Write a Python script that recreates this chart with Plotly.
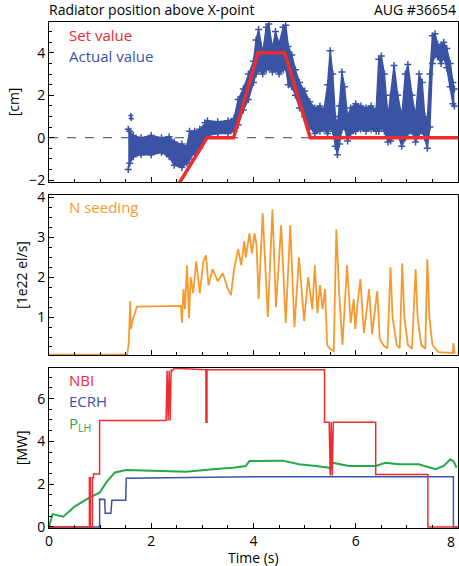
import plotly.graph_objects as go
from plotly.subplots import make_subplots

# ---------------- data ----------------
# Top panel: radiator position (cm)
set_t = [2.40, 3.09, 3.61, 4.09, 4.61, 5.11, 8.00]
set_v = [-2.72, 0.0, 0.0, 4.0, 4.0, 0.0, 0.0]

act_t = [1.55, 1.58, 1.65, 1.80, 2.00, 2.20, 2.35, 2.45, 2.60, 2.70, 2.75, 2.85, 2.95,
         3.05, 3.10, 3.30, 3.50, 3.62, 3.70, 3.80, 3.90, 4.00, 4.05, 4.10, 4.18, 4.25,
         4.30, 4.37, 4.43, 4.50, 4.58, 4.63, 4.68, 4.75, 4.82, 4.90, 5.00, 5.10, 5.20,
         5.30, 5.38, 5.45, 5.50, 5.55, 5.60, 5.64, 5.68, 5.73, 5.78, 5.84, 5.90, 6.00,
         6.10, 6.20, 6.30, 6.40, 6.45, 6.50, 6.56, 6.63, 6.68, 6.75, 6.82, 6.90, 6.97,
         7.02, 7.10, 7.17, 7.24, 7.30, 7.35, 7.40, 7.45, 7.50, 7.55, 7.60, 7.67, 7.72,
         7.78, 7.85, 7.90, 7.93]
act_lo = [-1.5, -1.2, -0.9, -0.8, -0.8, -0.7, -0.9, -1.3, -1.4, -1.2, -1.0, -0.7, -0.5,
          0.0, 0.1, 0.2, 0.2, 0.3, 0.6, 1.3, 1.8, 2.6, 3.0, 3.2, 3.0, 3.2,
          3.3, 3.1, 3.2, 3.0, 3.2, 3.3, 2.5, 2.4, 2.0, 1.4, 1.0, 0.5, 0.2,
          0.3, 0.4, 0.2, 0.5, 0.3, -0.4, -0.8, -0.3, 0.4, 0.5, -0.15, 0.2, 0.3,
          0.4, 0.3, 0.4, 0.3, 0.3, 0.5, 0.3, -0.2, -0.15, 0.1, 0.2, -0.4, 0.0,
          0.2, 0.3, -0.2, 0.2, 0.3, 0.0, -0.5, 0.5, 3.5, 3.9, 3.8, 3.5, 3.8,
          3.3, 2.4, 1.6, 1.5]
act_hi = [0.4, 0.3, 0.1, 0.0, 0.1, 0.0, 0.05, -0.2, -0.3, -0.4, 0.3, 0.3, 0.4,
          0.7, 0.8, 0.75, 0.8, 0.9, 1.8, 2.3, 3.0, 3.6, 4.6, 5.1, 4.0, 5.2,
          5.35, 4.2, 5.0, 4.4, 5.2, 5.3, 4.3, 3.9, 3.2, 2.6, 2.2, 1.7, 1.4,
          1.5, 1.3, 2.5, 4.1, 3.0, 1.0, 0.6, 1.5, 3.1, 2.4, 1.0, 1.4, 1.6,
          1.5, 1.4, 1.5, 1.3, 3.7, 3.85, 3.0, 1.0, 2.0, 3.4, 2.0, 1.0, 3.0,
          3.45, 2.0, 1.0, 3.0, 2.6, 1.0, 0.8, 3.0, 4.8, 4.9, 4.4, 4.3, 4.5,
          4.2, 3.5, 2.6, 2.3]
out_t = [1.60, 1.61]
out_v = [1.05, 0.90]

# Middle panel: N seeding (1e22 el/s)
n_t = [0.0, 1.53, 1.56, 1.59, 1.60, 1.64, 1.72, 2.00, 2.30, 2.58, 2.60, 2.63, 2.66, 2.70,
       2.74, 2.77, 2.82, 2.88, 2.95, 3.02, 3.07, 3.12, 3.20, 3.30, 3.40, 3.50, 3.56, 3.62,
       3.70, 3.76, 3.82, 3.85, 3.92, 3.97, 4.02, 4.06, 4.10, 4.18, 4.28, 4.37, 4.44, 4.54,
       4.63, 4.72, 4.80, 4.89, 4.99, 5.07, 5.15, 5.20, 5.25, 5.30, 5.35, 5.40, 5.44, 5.50,
       5.57, 5.62, 5.68, 5.74, 5.83, 5.90, 5.96, 5.99, 6.04, 6.09, 6.16, 6.22, 6.26, 6.32,
       6.38, 6.42, 6.47, 6.55, 6.62, 6.68, 6.72, 6.80, 6.86, 6.91, 6.95, 7.02, 7.10, 7.17,
       7.21, 7.28, 7.36, 7.40, 7.44, 7.50, 7.62, 7.80, 7.90, 7.91, 7.93, 7.95]
n_v = [0.06, 0.06, 0.35, 1.40, 0.70, 0.95, 1.26, 1.27, 1.28, 1.28, 0.85, 1.70, 1.20, 2.30,
       0.97, 2.00, 1.60, 2.40, 1.60, 2.40, 2.55, 1.80, 2.20, 1.90, 2.10, 1.70, 1.55, 2.20,
       2.70, 2.30, 2.90, 2.50, 3.10, 2.60, 3.10, 2.80, 1.45, 3.60, 1.00, 3.70, 1.25, 3.30,
       0.85, 3.30, 0.75, 2.50, 0.90, 2.00, 1.20, 2.30, 1.10, 1.80, 1.20, 1.70, 0.30, 0.20,
       0.15, 3.20, 1.50, 0.30, 2.30, 0.85, 1.45, 0.70, 1.40, 1.95, 0.60, 1.30, 1.70, 0.57,
       1.20, 1.65, 0.45, 0.28, 0.22, 2.25, 1.00, 0.30, 0.22, 2.35, 1.00, 0.30, 0.20, 2.20,
       1.00, 0.30, 0.20, 2.45, 1.00, 0.30, 0.12, 0.10, 0.10, 0.35, 0.10, 0.10]

# Bottom panel: heating powers (MW)
nbi_t = [0.0, 0.79, 0.79, 0.81, 0.81, 0.85, 0.85, 0.87, 0.87, 0.99, 0.99, 2.29, 2.31,
         2.33, 2.35, 2.37, 2.39, 2.41, 2.45, 3.07, 3.07, 3.09, 3.09, 5.39, 5.39, 5.48,
         5.50, 5.52, 5.54, 5.56, 6.39, 6.39, 7.41, 7.41, 8.0]
nbi_v = [0.0, 0.0, 2.3, 2.3, 0.0, 0.0, 2.3, 2.3, 2.47, 2.47, 4.98, 4.98, 7.3,
         4.98, 7.3, 4.98, 7.35, 7.3, 7.42, 7.35, 4.9, 4.9, 7.35, 7.35, 4.9, 4.9,
         2.4, 4.9, 2.4, 4.9, 4.9, 2.45, 2.45, 0.0, 0.0]
ecrh_t = [0.0, 0.99, 0.99, 1.09, 1.10, 1.21, 1.23, 1.50, 1.51, 2.5, 4.0, 7.91, 7.91, 8.0]
ecrh_v = [0.0, 0.0, 1.30, 1.28, 0.64, 0.64, 1.25, 1.25, 2.28, 2.32, 2.35, 2.35, 0.0, 0.0]
plh_t = [0.0, 0.07, 0.28, 0.50, 0.80, 0.99, 1.12, 1.29, 1.51, 2.00, 2.68, 3.20, 3.60,
         3.85, 3.92, 4.57, 4.76, 4.89, 5.22, 5.48, 5.51, 5.54, 5.87, 6.39, 6.58, 6.84,
         7.23, 7.56, 7.72, 7.85, 7.92, 7.97]
plh_v = [0.0, 0.60, 0.48, 0.95, 1.38, 1.60, 2.08, 2.55, 2.66, 2.62, 2.58, 2.70, 2.77,
         2.85, 3.08, 3.10, 3.00, 2.93, 2.85, 2.77, 2.65, 3.00, 2.85, 2.85, 3.00, 2.93,
         2.93, 2.70, 2.85, 3.16, 3.05, 2.77]

x_ticks = [0, 2, 4, 6, 8]
x_ticktext = ["0", "2", "4", "6", ""]

# ---------------- style ----------------
RED = "#ec2c2f"
BLUE = "#3a53a4"
ORANGE = "#f79a2e"
GREEN = "#25a84a"
FONT = "Open Sans"

fig = make_subplots(rows=3, cols=1, shared_xaxes=True, vertical_spacing=0.0)

# top panel
fig.add_trace(go.Scatter(x=act_t, y=act_lo, mode="lines+markers", line=dict(color=BLUE, width=1.5),
                         marker=dict(symbol="cross-thin", size=5, line=dict(color=BLUE, width=1.5)),
                         showlegend=False, hoverinfo="skip"), row=1, col=1)
fig.add_trace(go.Scatter(x=act_t, y=act_hi, mode="lines+markers", line=dict(color=BLUE, width=1.5),
                         marker=dict(symbol="cross-thin", size=5, line=dict(color=BLUE, width=1.5)),
                         fill="tonexty", fillcolor=BLUE, showlegend=False), row=1, col=1)
fig.add_trace(go.Scatter(x=out_t, y=out_v, mode="markers",
                         marker=dict(color=BLUE, size=4, symbol="cross"),
                         showlegend=False), row=1, col=1)
fig.add_trace(go.Scatter(x=set_t, y=set_v, mode="lines", line=dict(color=RED, width=3.5),
                         showlegend=False), row=1, col=1)

# middle panel
fig.add_trace(go.Scatter(x=n_t, y=n_v, mode="lines", line=dict(color=ORANGE, width=1.8),
                         showlegend=False), row=2, col=1)

# bottom panel
fig.add_trace(go.Scatter(x=plh_t, y=plh_v, mode="lines", line=dict(color=GREEN, width=2),
                         showlegend=False), row=3, col=1)
fig.add_trace(go.Scatter(x=ecrh_t, y=ecrh_v, mode="lines", line=dict(color=BLUE, width=1.5),
                         showlegend=False), row=3, col=1)
fig.add_trace(go.Scatter(x=nbi_t, y=nbi_v, mode="lines", line=dict(color=RED, width=1.5),
                         showlegend=False), row=3, col=1)

axis_common = dict(showline=True, linecolor="black", linewidth=1, mirror=True,
                   ticks="inside", ticklen=5, tickcolor="black", showgrid=False,
                   zeroline=False, automargin=False,
                   tickfont=dict(family=FONT, size=14, color="black"))

for r in (1, 2, 3):
    fig.update_xaxes(range=[0, 8.0], tickvals=x_ticks, ticktext=x_ticktext,
                     minor=dict(dtick=0.5, ticks="inside", ticklen=3, tickcolor="black"),
                     row=r, col=1, **axis_common)
fig.update_xaxes(showticklabels=False, row=1, col=1)
fig.update_xaxes(showticklabels=False, row=2, col=1)

fig.update_yaxes(range=[-2.08, 5.45], tickvals=[-2, 0, 2, 4],
                 minor=dict(dtick=0.5, ticks="inside", ticklen=3, tickcolor="black"),
                 title=dict(text="[cm]", font=dict(family=FONT, size=14, color="black"), standoff=6),
                 row=1, col=1, **axis_common)
fig.update_yaxes(range=[0.05, 4.06], tickvals=[1, 2, 3, 4],
                 minor=dict(dtick=0.25, ticks="inside", ticklen=3, tickcolor="black"),
                 title=dict(text="[1e22 el/s]", font=dict(family=FONT, size=14, color="black"), standoff=6),
                 row=2, col=1, **axis_common)
fig.update_yaxes(range=[-0.05, 7.45], tickvals=[0, 2, 4, 6],
                 minor=dict(dtick=0.5, ticks="inside", ticklen=3, tickcolor="black"),
                 title=dict(text="[MW]", font=dict(family=FONT, size=14, color="black"), standoff=6),
                 row=3, col=1, **axis_common)

fig.update_layout(
    width=459, height=566,
    margin=dict(l=49, r=1, t=22, b=38, autoexpand=False),
    paper_bgcolor="white", plot_bgcolor="white",
    font=dict(family=FONT, size=14, color="black"),
    yaxis=dict(domain=[0.684, 1.0]),
    yaxis2=dict(domain=[0.342, 0.658]),
    yaxis3=dict(domain=[0.0, 0.317]),
)

# dashed zero line in top panel
fig.add_shape(type="line", xref="x domain", yref="y", x0=0, x1=1, y0=0, y1=0,
              line=dict(color="#444", width=1, dash="dash"), layer="below")

ann = []
def note(text, x, y, color, xref="paper", yref="paper", xanchor="left", size=15):
    ann.append(dict(text=text, x=x, y=y, xref=xref, yref=yref, xanchor=xanchor,
                    yanchor="middle", showarrow=False,
                    font=dict(family=FONT, size=size, color=color)))

note("Radiator position above X-point", -0.005, 1.024, "black", size=14)
note("AUG #36654", 1.0, 1.024, "black", xanchor="right", size=14)
note("Set value", 0.045, 0.975, RED)
note("Actual value", 0.045, 0.933, BLUE)
note("N seeding", 0.045, 0.635, ORANGE)
note("NBI", 0.045, 0.293, RED)
note("ECRH", 0.045, 0.251, BLUE)
note("P<sub>LH</sub>", 0.045, 0.206, GREEN)
note("Time (s)", 0.5, -0.058, "black", xanchor="center", size=14)
ann.append(dict(text="8", x=7.87, y=-0.05, xref="x3", yref="y3", xanchor="center",
                yanchor="top", yshift=-2, showarrow=False,
                font=dict(family=FONT, size=14, color="black")))
fig.update_layout(annotations=ann)

fig.write_html("out.html", config={"displayModeBar": False},
               post_script="document.body.style.margin='0';document.body.style.overflow='hidden';")
